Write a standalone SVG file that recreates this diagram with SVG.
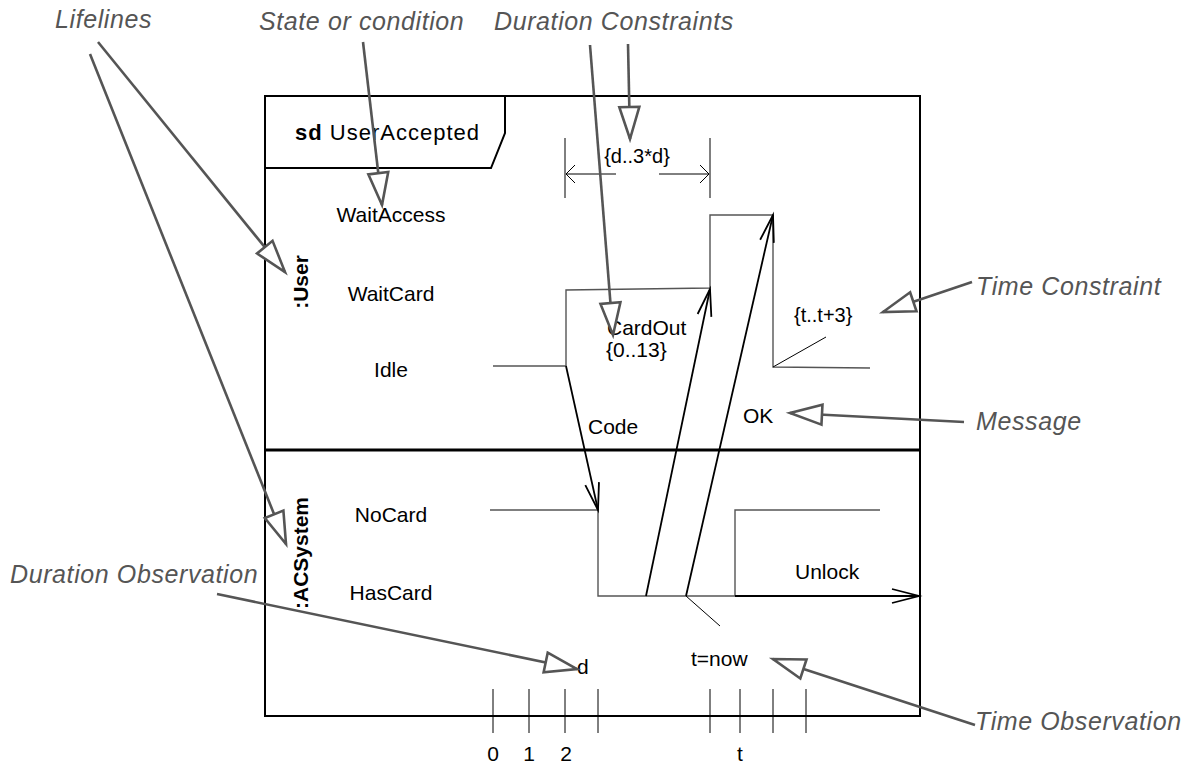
<svg xmlns="http://www.w3.org/2000/svg" width="1188" height="763" viewBox="0 0 1188 763">
<style>
.t{font-family:"Liberation Sans",Arial,sans-serif;font-size:21px;fill:#000}
.b{font-weight:bold}
.ann{font-family:"Liberation Sans",Arial,sans-serif;font-size:25px;font-style:italic;fill:#555;letter-spacing:0.6px}
.frame{fill:none;stroke:#000;stroke-width:2}
.tl{fill:none;stroke:#555;stroke-width:1.4}
.msg{fill:none;stroke:#000;stroke-width:1.8;marker-end:url(#open)}
.thin{fill:none;stroke:#000;stroke-width:1}
.tick{fill:none;stroke:#000;stroke-width:1}
.call{fill:none;stroke:#555;stroke-width:2.6;marker-end:url(#tri)}
.dim{fill:none;stroke:#000;stroke-width:1;marker-end:url(#small)}
</style>
<defs>
<marker id="tri" markerUnits="userSpaceOnUse" markerWidth="40" markerHeight="26" refX="33" refY="11" orient="auto" overflow="visible">
<path d="M1,1 L33,11 L1,21 Z" fill="#fff" stroke="#555" stroke-width="2.6"/>
</marker>
<marker id="open" markerUnits="userSpaceOnUse" markerWidth="30" markerHeight="18" refX="27" refY="8" orient="auto" overflow="visible">
<path d="M0,1 L27,8 L0,15" fill="none" stroke="#000" stroke-width="1.8"/>
</marker>
<marker id="small" markerUnits="userSpaceOnUse" markerWidth="12" markerHeight="20" refX="9" refY="10" orient="auto" overflow="visible">
<path d="M0,1 L9,10 L0,19" fill="none" stroke="#000" stroke-width="1"/>
</marker>
</defs>

<g id="frame">
<rect class="frame" x="265" y="96" width="655" height="620"/>
<path class="frame" d="M265,168 L491,168 L505,133 L505,96"/>
<line x1="265" y1="450" x2="920" y2="450" stroke="#000" stroke-width="3"/>
<text class="t" x="295" y="140" style="font-size:22px;letter-spacing:1px"><tspan class="b">sd</tspan> UserAccepted</text>
</g>

<g id="lifeline-user">
<text class="t b" transform="translate(308,282) rotate(-90)" text-anchor="middle">:User</text>
<text class="t" x="391" y="222" text-anchor="middle">WaitAccess</text>
<text class="t" x="391" y="301" text-anchor="middle">WaitCard</text>
<text class="t" x="391" y="377" text-anchor="middle">Idle</text>
<path class="tl" d="M493,366 L566,366 L566,290 L710,288 L710,215 L773,215 L773,367 L870,368"/>
</g>

<g id="lifeline-acsystem">
<text class="t b" transform="translate(308,553) rotate(-90)" text-anchor="middle">:ACSystem</text>
<text class="t" x="391" y="522" text-anchor="middle">NoCard</text>
<text class="t" x="391" y="600" text-anchor="middle">HasCard</text>
<path class="tl" d="M490,510 L598,510 L598,596 L735,596"/>
<path class="tl" d="M735,596 L735,510 L880,510"/>
</g>

<g id="connectors">
<line class="msg" x1="566" y1="366" x2="598" y2="510"/>
<line class="msg" x1="646" y1="596" x2="710" y2="289"/>
<line class="msg" x1="686" y1="596" x2="773" y2="215"/>
<line class="msg" x1="735" y1="596" x2="919" y2="596"/>
<line class="thin" x1="686" y1="596" x2="720" y2="626"/>
<line class="thin" x1="773" y1="367" x2="826" y2="337"/>
<line class="tick" x1="565" y1="138" x2="565" y2="198"/>
<line class="tick" x1="710" y1="138" x2="710" y2="198"/>
<line class="dim" x1="616" y1="174" x2="566" y2="174"/>
<line class="dim" x1="659" y1="174" x2="709" y2="174"/>
</g>

<g id="labels">
<text class="t" x="588" y="434">Code</text>
<text class="t" x="607" y="335">CardOut</text>
<text class="t" x="606" y="357">{0..13}</text>
<text class="t" x="794" y="322" style="font-size:20px">{t..t+3}</text>
<text class="t" x="743" y="423">OK</text>
<text class="t" x="795" y="579">Unlock</text>
<text class="t" x="691" y="666">t=now</text>
<text class="t" x="577" y="674">d</text>
<text class="t" x="637" y="163" text-anchor="middle" style="font-size:20px">{d..3*d}</text>
</g>

<g id="time-axis">
<path class="tick" d="M493,689 V733 M529,689 V733 M565,689 V733 M598,689 V733 M710,689 V733 M740,689 V733 M773,689 V733 M806,689 V733"/>
<text class="t" x="493" y="761" text-anchor="middle">0</text>
<text class="t" x="529" y="761" text-anchor="middle">1</text>
<text class="t" x="566" y="761" text-anchor="middle">2</text>
<text class="t" x="740" y="761" text-anchor="middle">t</text>
</g>

<g id="annotations">
<text class="ann" x="55" y="28">Lifelines</text>
<text class="ann" x="259" y="30">State or condition</text>
<text class="ann" x="494" y="30">Duration Constraints</text>
<text class="ann" x="976" y="295">Time Constraint</text>
<text class="ann" x="976" y="430">Message</text>
<text class="ann" x="10" y="583">Duration Observation</text>
<text class="ann" x="975" y="730">Time Observation</text>
<line class="call" x1="98" y1="42" x2="285" y2="272"/>
<line class="call" x1="90" y1="54" x2="286" y2="544"/>
<line class="call" x1="363" y1="42" x2="382" y2="205"/>
<line class="call" x1="590" y1="45" x2="613" y2="335"/>
<line class="call" x1="628" y1="44" x2="630" y2="139"/>
<line class="call" x1="972" y1="282" x2="883" y2="312"/>
<line class="call" x1="964" y1="422" x2="790" y2="413"/>
<line class="call" x1="217" y1="594" x2="577" y2="669"/>
<line class="call" x1="975" y1="725" x2="773" y2="659"/>
</g>
</svg>
